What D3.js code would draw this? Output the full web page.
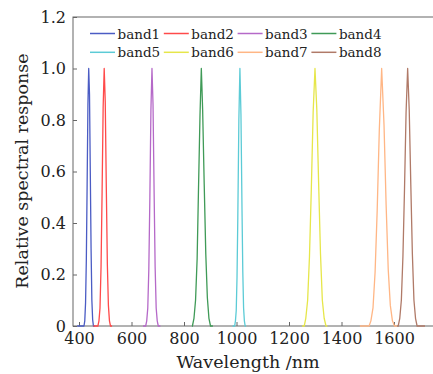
<!DOCTYPE html>
<html><head><meta charset="utf-8">
<script src="https://cdn.jsdelivr.net/npm/d3@7"></script>
<style>body{margin:0;background:#fff;} svg{display:block;}</style>
</head><body>
<svg id="c" width="433" height="374"></svg>
<script>
const bandNames = ["band1","band2","band3","band4","band5","band6","band7","band8"];
const bandColors = ["#4b5cc4","#ff4a4a","#b569c8","#3f9a57","#5ccbd6","#e6e64a","#ffb685","#b07a68"];
const band1 = [[393,0],[419,0],[422,0.02],[425,0.09],[428,0.26],[431,0.55],[434,0.86],[437,1.0],[440,0.9],[443,0.6],[446,0.3],[449,0.1],[452,0.025],[455,0],[460,0]];
const band2 = [[455,0],[472,0],[476,0.02],[480,0.07],[484,0.23],[488,0.52],[492,0.85],[496,1.0],[500,0.87],[504,0.54],[508,0.24],[512,0.08],[516,0.02],[520,0],[526,0]];
const band3 = [[644,0],[654,0],[658,0.02],[662,0.07],[666,0.22],[670,0.5],[674,0.84],[678,1.0],[682,0.86],[686,0.53],[690,0.23],[694,0.07],[698,0.02],[702,0],[710,0]];
const band4 = [[830,0],[832,0],[838,0.03],[844,0.1],[850,0.26],[855,0.52],[861,0.82],[866,1.0],[871,0.84],[877,0.55],[883,0.28],[889,0.11],[895,0.03],[901,0],[910,0]];
const band5 = [[985,0],[993,0],[996,0.02],[999,0.06],[1002,0.19],[1005,0.42],[1009,0.8],[1013,1.0],[1017,0.82],[1021,0.45],[1024,0.21],[1027,0.07],[1030,0.02],[1033,0],[1036,0]];
const band6 = [[1250,0],[1258,0],[1264,0.03],[1271,0.1],[1278,0.27],[1285,0.53],[1292,0.83],[1299,1.0],[1306,0.84],[1313,0.55],[1320,0.28],[1327,0.1],[1334,0.03],[1341,0],[1346,0]];
const band7 = [[1470,0],[1505,0],[1512,0.02],[1520,0.07],[1528,0.21],[1536,0.45],[1544,0.76],[1553,1.0],[1562,0.78],[1570,0.47],[1578,0.22],[1586,0.08],[1594,0.02],[1602,0],[1611,0]];
const band8 = [[1612,0],[1616,0],[1622,0.03],[1628,0.1],[1634,0.27],[1640,0.53],[1646,0.83],[1652,1.0],[1658,0.84],[1664,0.55],[1670,0.28],[1676,0.1],[1682,0.03],[1688,0],[1718,0]];
const bandData = [band1,band2,band3,band4,band5,band6,band7,band8];
const xTicks = [400,600,800,1000,1200,1400,1600];
const yTicks = [0,0.2,0.4,0.6,0.8,1.0,1.2];
const yTickLabels = ["0","0.2","0.4","0.6","0.8","1.0","1.2"];

const svg = d3.select("#c");
const L = 73, T = 17, R = 440, B = 326;
const x = d3.scaleLinear().domain([400,1600]).range([79,394]);
const y = d3.scaleLinear().domain([0,1.2]).range([B,T]);
const axisColor = "#666";
const font = "'DejaVu Serif', serif";

// frame
svg.append("rect").attr("x",L).attr("y",T).attr("width",R-L).attr("height",B-T)
  .attr("fill","none").attr("stroke",axisColor).attr("stroke-width",1);

// x axis
const xa = svg.append("g").attr("transform",`translate(0,${B})`)
  .call(d3.axisBottom(x).tickValues(xTicks).tickSizeInner(-4).tickSizeOuter(0).tickPadding(7).tickFormat(d3.format("d")));
xa.select(".domain").remove();
xa.selectAll("line").attr("stroke",axisColor);
xa.selectAll("text").attr("font-family",font).attr("font-size",16).attr("fill","#222");

// y axis
const ya = svg.append("g").attr("transform",`translate(${L},0)`)
  .call(d3.axisLeft(y).tickValues(yTicks).tickSizeInner(-4).tickSizeOuter(0).tickPadding(7).tickFormat((d,i)=>yTickLabels[i]));
ya.select(".domain").remove();
ya.selectAll("line").attr("stroke",axisColor);
ya.selectAll("text").attr("font-family",font).attr("font-size",16).attr("fill","#222");

// lines
const line = d3.line().x(d=>x(d[0])).y(d=>y(d[1]));
bandData.forEach((d,i)=>{
  svg.append("path").attr("d",line(d)).attr("fill","none")
    .attr("stroke",bandColors[i]).attr("stroke-width",1.3).attr("stroke-linejoin","round");
});

// legend
const lg = svg.append("g");
bandNames.forEach((n,i)=>{
  const col = i%4, row = Math.floor(i/4);
  const lx = 90 + col*73.8, ly = 33.5 + row*18.8;
  lg.append("line").attr("x1",lx).attr("x2",lx+25).attr("y1",ly).attr("y2",ly)
    .attr("stroke",bandColors[i]).attr("stroke-width",1.5);
  lg.append("text").attr("x",lx+27.5).attr("y",ly+5).text(n)
    .attr("font-family",font).attr("font-size",13.5).attr("fill","#222");
});

// titles
svg.append("text").attr("x",248).attr("y",368).attr("text-anchor","middle")
  .attr("font-family",font).attr("font-size",17.5).attr("fill","#222").text("Wavelength /nm");
svg.append("text").attr("transform","translate(28,171) rotate(-90)").attr("text-anchor","middle")
  .attr("font-family",font).attr("font-size",17.5).attr("fill","#222").text("Relative spectral response");
</script>
</body></html>
